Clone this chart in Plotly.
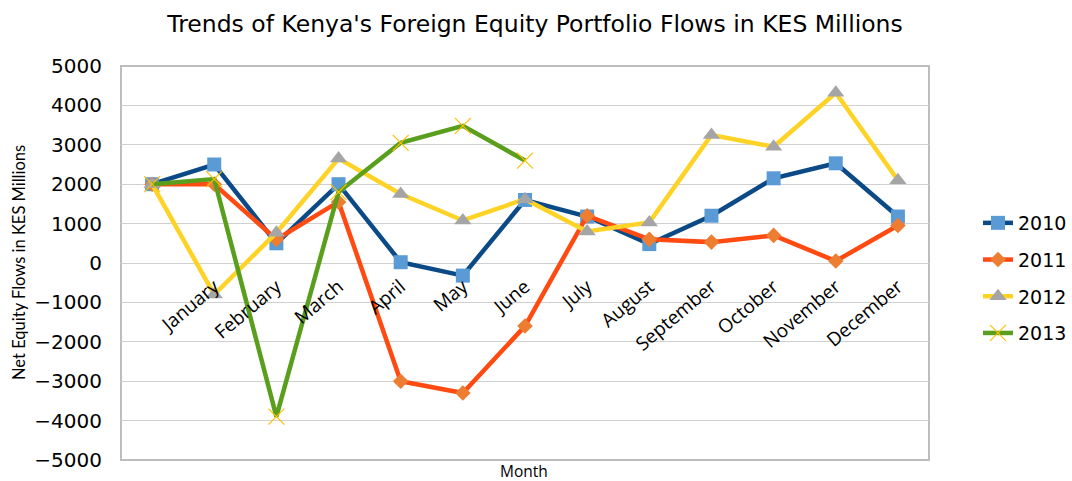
import plotly.graph_objects as go

categories = ["", "January", "February", "March", "April", "May", "June",
              "July", "August", "September", "October", "November", "December"]

y2010 = [2000, 2500, 500, 2000, 20, -320, 1600, 1180, 480, 1200, 2150, 2530, 1180]
y2011 = [2000, 2000, 600, 1550, -3000, -3300, -1600, 1200, 600, 530, 700, 50, 950]
y2012 = [2000, -800, 770, 2650, 1750, 1080, 1620, 800, 1030, 3250, 2950, 4320, 2100]
y2013 = [2000, 2130, -3900, 1800, 3050, 3480, 2600, None, None, None, None, None, None]

ytick_vals = list(range(-5000, 5001, 1000))

xpos = list(range(len(categories)))

series = [
    ("2010", y2010, dict(color="#0B4A86", width=4.5),
     dict(symbol="square", size=14, color="#5B9BD5", line=dict(width=0))),
    ("2011", y2011, dict(color="#FF4A12", width=4.5),
     dict(symbol="diamond", size=12, color="#ED7D31", line=dict(width=0))),
    ("2012", y2012, dict(color="#FFD326", width=4.5),
     dict(symbol="triangle-up", size=15, color="#A5A5A5", line=dict(width=0))),
    ("2013", y2013, dict(color="#5A9E1E", width=4.5),
     dict(symbol="x-thin", size=16, color="#FFC000", line=dict(width=1.2, color="#FFC000"))),
]

fig = go.Figure()
for i, (name, ys, ln, mk) in enumerate(series):
    fig.add_trace(go.Scatter(
        x=xpos, y=ys, name=name, mode="lines+markers",
        line=ln, marker=mk, legendgroup=f"g{i}", connectgaps=False,
    ))

PL, PR, PT, PB = 121, 143, 66, 21
PW = 1072 - PL - PR
PH = 481 - PT - PB

fig.update_layout(
    width=1072, height=481,
    paper_bgcolor="white", plot_bgcolor="white",
    margin=dict(l=PL, r=PR, t=PT, b=PB, autoexpand=False),
    title=dict(text="Trends of Kenya's Foreign Equity Portfolio Flows in KES Millions",
               x=(535 - PL) / PW, xref="paper", xanchor="center",
               y=1 - 24 / 481, yref="container", yanchor="middle",
               font=dict(family="DejaVu Sans", size=23.5, color="#000000")),
    showlegend=True,
    legend=dict(x=(978 - PL) / PW, xanchor="left", y=(PH - (278 - PT)) / PH, yanchor="middle",
                font=dict(family="DejaVu Sans", size=19, color="#000000"),
                tracegroupgap=9, traceorder="grouped",
                bgcolor="rgba(0,0,0,0)"),
)

fig.update_xaxes(
    range=[-0.5, len(categories) - 0.5],
    tickmode="array", tickvals=xpos, ticktext=categories,
    tickangle=-40, tickfont=dict(family="Open Sans", size=19, color="#000000"),
    showgrid=False, zeroline=False, showline=False, ticks="",
    anchor="free", position=0.5, automargin=False, ticklabelstandoff=8,
)
fig.update_yaxes(
    range=[-5000, 5000], tickmode="array", tickvals=ytick_vals,
    tickfont=dict(family="DejaVu Sans", size=20, color="#000000"),
    showgrid=True, gridcolor="#D0D0D0", gridwidth=1.3,
    zeroline=True, zerolinecolor="#D0D0D0", zerolinewidth=1.3,
    showline=False, ticks="outside", ticklen=14, tickcolor="rgba(0,0,0,0)",
    automargin=False,
)

fig.add_shape(type="rect", xref="paper", yref="paper", x0=0, x1=1, y0=0, y1=1,
              line=dict(color="#BDBDBD", width=2), fillcolor="rgba(0,0,0,0)", layer="below")

fig.add_annotation(text="Net Equity Flows in KES Millions", xref="paper", yref="paper",
                   x=(19 - PL) / PW, y=(PH - (263 - PT)) / PH, textangle=-90,
                   xanchor="center", yanchor="middle", showarrow=False,
                   font=dict(family="Lato", size=16.5, color="#000000"))

fig.add_annotation(text="Month", xref="paper", yref="paper", x=(524 - PL) / PW,
                   y=(PH - (471 - PT)) / PH,
                   xanchor="center", yanchor="middle", showarrow=False,
                   font=dict(family="Open Sans", size=15.5, color="#000000"))

fig.write_html("out.html", config={"displayModeBar": False},
               post_script="document.body.style.margin='0';")
